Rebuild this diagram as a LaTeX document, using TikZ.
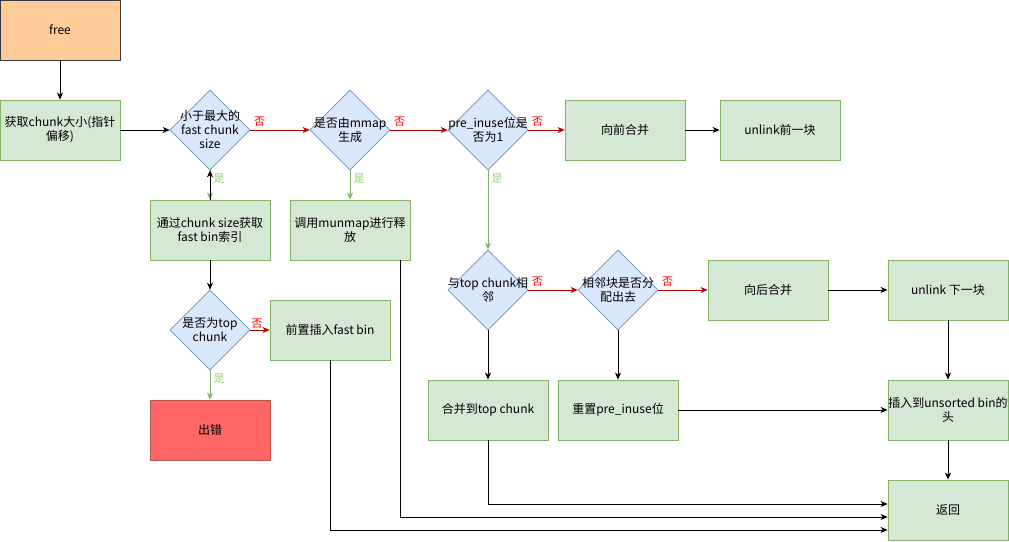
\documentclass[tikz,border=0pt]{standalone}
\usepackage{fontspec}
\setmainfont{Noto Sans CJK SC}
\usetikzlibrary{shapes.geometric,arrows.meta}

\definecolor{boxfill}{HTML}{D5E8D4}
\definecolor{boxline}{HTML}{82B366}
\definecolor{diafill}{HTML}{DAE8FC}
\definecolor{dialine}{HTML}{6C8EBF}
\definecolor{startfill}{HTML}{FFCC99}
\definecolor{startline}{HTML}{36393D}
\definecolor{errfill}{HTML}{FF6666}
\definecolor{errline}{HTML}{B85450}
\definecolor{noline}{HTML}{B20000}
\definecolor{notext}{HTML}{FF0000}
\definecolor{yestext}{HTML}{97D077}

\newcommand{\mb}[1]{\makebox[0pt]{#1}}

\tikzset{
    box/.style={rectangle, draw=boxline, fill=boxfill, line width=0.8pt,
        minimum width=120pt, minimum height=60pt, inner sep=0pt, align=center},
    dia/.style={diamond, aspect=1, draw=dialine, fill=diafill, line width=0.6pt,
        minimum width=80pt, minimum height=80pt, inner sep=0pt, align=center},
    flow/.style={draw=black, line width=0.8pt, -{Stealth[length=7pt,width=6pt,inset=2pt]}},
    yesflow/.style={flow, draw=boxline},
    noflow/.style={flow, draw=noline},
    yeslbl/.style={text=yestext, font=\fontsize{11}{12}\selectfont},
    nolbl/.style={text=notext, font=\fontsize{11}{12}\selectfont},
}

\begin{document}
\begin{tikzpicture}[x=1pt, y=-1pt, font=\fontsize{12}{14}\selectfont]
    \useasboundingbox (0,0) rectangle (1009,541);

    \node[box, fill=startfill, draw=startline] (free) at (60,30) {free};
    \node[box] (getsize) at (60,130) {获取chunk大小(指针\\偏移)};

    \node[dia] (isfast) at (210,130) {\mb{小于最大的}\\\mb{fast chunk}\\\mb{size}};
    \node[dia] (ismmap) at (350,130) {\mb{是否由mmap}\\\mb{生成}};
    \node[dia] (previnuse) at (488,130) {\mb{pre\_inuse位是}\\\mb{否为1}};
    \node[box] (mergeprev) at (625,130) {向前合并};
    \node[box] (unlinkprev) at (780,130) {unlink前一块};

    \node[box] (fastidx) at (210,230) {通过chunk size获取\\fast bin索引};
    \node[box] (munmap) at (350,230) {调用munmap进行释\\放};

    \node[dia] (istop) at (210,330) {\mb{是否为top}\\\mb{chunk}};
    \node[box] (fastins) at (330,330) {前置插入fast bin};
    \node[box, fill=errfill, draw=errline] (err) at (210,430) {出错};

    \node[dia] (neartop) at (488,290) {\mb{与top chunk相}\\\mb{邻}};
    \node[dia] (nextused) at (618,290) {\mb{相邻块是否分}\\\mb{配出去}};
    \node[box] (mergenext) at (768,290) {向后合并};
    \node[box] (unlinknext) at (948,290) {unlink 下一块};

    \node[box] (mergetop) at (488,410) {合并到top chunk};
    \node[box] (resetinuse) at (618,410) {重置pre\_inuse位};
    \node[box] (unsorted) at (948,410) {插入到unsorted bin的\\头};
    \node[box] (ret) at (948,510) {返回};

    \draw[flow] (free) -- (getsize);
    \draw[flow] (getsize) -- (isfast);
    \draw[noflow] (isfast) -- node[nolbl, at start, above right] {否} (ismmap);
    \draw[noflow] (ismmap) -- node[nolbl, at start, above right] {否} (previnuse);
    \draw[noflow] (previnuse) -- node[nolbl, at start, above right] {否} (mergeprev);
    \draw[flow] (mergeprev) -- (unlinkprev);

    \draw[yesflow] (isfast) -- node[yeslbl, at start, below right] {是} (fastidx);
    \draw[flow] (fastidx) -- (isfast);
    \draw[yesflow] (ismmap) -- node[yeslbl, at start, below right] {是} (munmap);
    \draw[yesflow] (previnuse) -- node[yeslbl, at start, below right] {是} (neartop);

    \draw[flow] (fastidx) -- (istop);
    \draw[noflow] (istop) -- node[nolbl, at start, above right, inner sep=1pt] {否} (fastins);
    \draw[yesflow] (istop) -- node[yeslbl, at start, below right] {是} (err);

    \draw[noflow] (neartop) -- node[nolbl, at start, above right] {否} (nextused);
    \draw[noflow] (nextused) -- node[nolbl, at start, above right] {否} (mergenext);
    \draw[flow] (mergenext) -- (unlinknext);
    \draw[flow] (unlinknext) -- (unsorted);
    \draw[flow] (neartop) -- (mergetop);
    \draw[flow] (nextused) -- (resetinuse);
    \draw[flow] (resetinuse) -- (unsorted);
    \draw[flow] (unsorted) -- (ret);

    \draw[flow] (mergetop.south) |- ([yshift=6pt]ret.west);
    \draw[flow] ([xshift=50pt]munmap.south) |- ([yshift=-7pt]ret.west);
    \draw[flow] (fastins.south) |- ([yshift=-20pt]ret.west);
\end{tikzpicture}
\end{document}
